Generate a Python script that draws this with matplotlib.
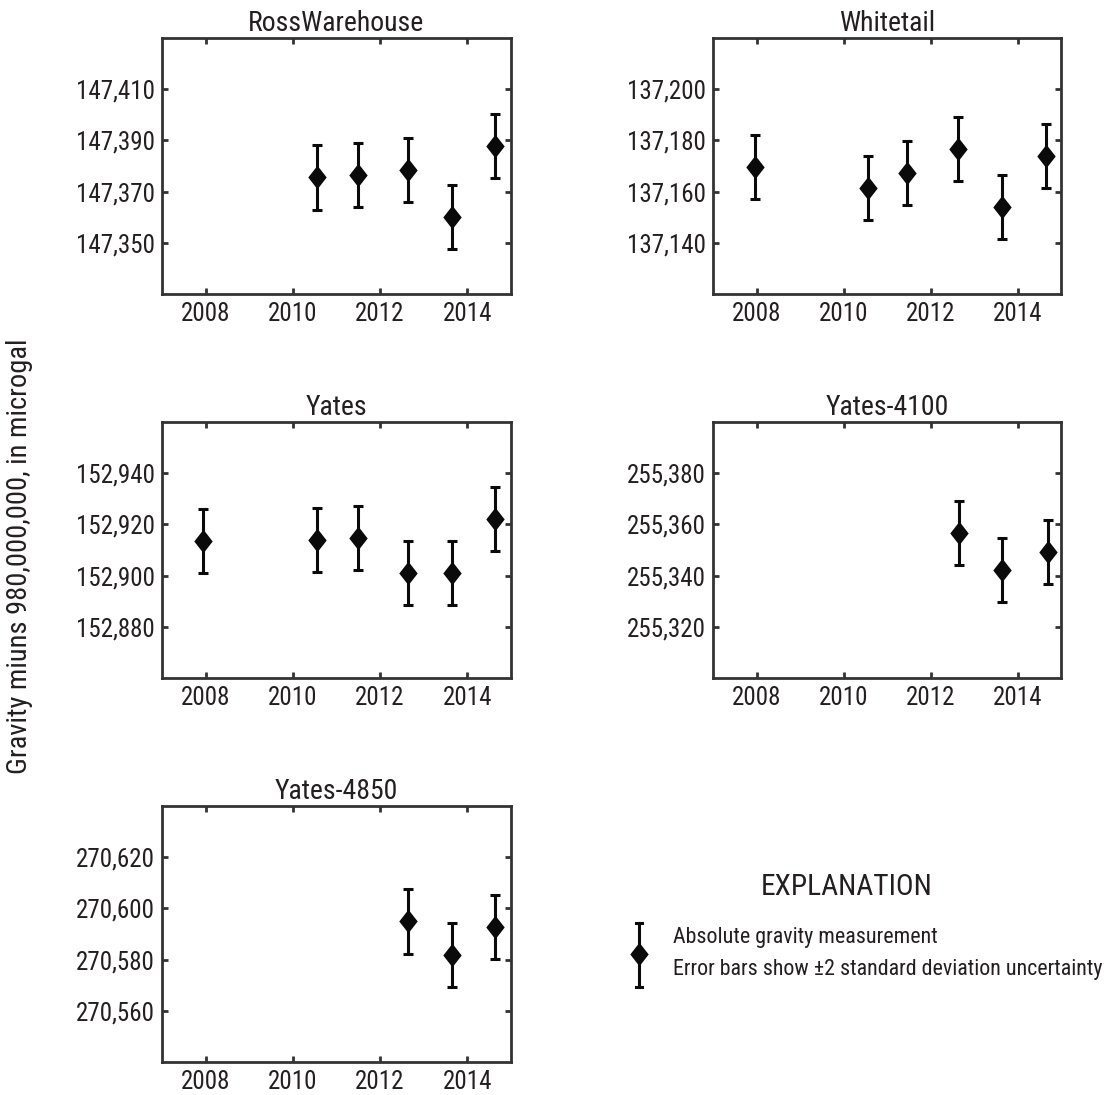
import matplotlib
matplotlib.use("Agg")
import matplotlib.pyplot as plt
from matplotlib.ticker import FuncFormatter, FixedLocator
from matplotlib import font_manager as fm

avail = set(f.name for f in fm.fontManager.ttflist)
cands = ['Roboto Condensed', 'Archivo Narrow', 'PT Sans Narrow', 'Liberation Sans Narrow', 'Roboto']
fams = [c for c in cands if c in avail] + ['DejaVu Sans']
plt.rcParams['font.family'] = [fams[0], 'DejaVu Sans']

TXT = '#231f20'

# ---- data ----
stations = ["RossWarehouse", "Whitetail", "Yates", "Yates-4100", "Yates-4850"]

ross_years = [2010.56, 2011.49, 2012.64, 2013.64, 2014.64]
ross_vals = [147375.6, 147376.3, 147378.6, 147360.0, 147387.9]
ross_err = [12.6, 12.5, 12.5, 12.5, 12.5]

white_years = [2007.96, 2010.57, 2011.47, 2012.63, 2013.64, 2014.65]
white_vals = [137169.5, 137161.3, 137167.4, 137176.8, 137153.9, 137173.8]
white_err = [12.5, 12.5, 12.5, 12.5, 12.5, 12.5]

yates_years = [2007.95, 2010.55, 2011.50, 2012.64, 2013.64, 2014.64]
yates_vals = [152913.5, 152913.8, 152914.6, 152901.0, 152901.0, 152922.0]
yates_err = [12.5, 12.5, 12.5, 12.5, 12.5, 12.5]

y4100_years = [2012.65, 2013.65, 2014.69]
y4100_vals = [255356.7, 255342.3, 255349.4]
y4100_err = [12.6, 12.5, 12.5]

y4850_years = [2012.64, 2013.64, 2014.64]
y4850_vals = [270594.9, 270581.9, 270592.6]
y4850_err = [12.6, 12.5, 12.5]

ylim_low = [147330, 137120, 152860, 255300, 270540]
ytick_start = [147350, 137140, 152880, 255320, 270560]
xticks = [2008, 2010, 2012, 2014]

series = [
    (ross_years, ross_vals, ross_err),
    (white_years, white_vals, white_err),
    (yates_years, yates_vals, yates_err),
    (y4100_years, y4100_vals, y4100_err),
    (y4850_years, y4850_vals, y4850_err),
]

W, H = 1113, 1095
fig = plt.figure(figsize=(W / 100, H / 100), dpi=100)

# axes rectangles in pixels: (left, top, right, bottom)
boxes = [
    (162, 38, 511, 294),
    (713, 38, 1061, 294),
    (162, 422, 511, 678),
    (713, 422, 1061, 678),
    (162, 806, 511, 1062),
]

diamond = [(-0.39, 0), (0, 0.5), (0.39, 0), (0, -0.5), (-0.39, 0)]

for i, (name, (xs, ys, es)) in enumerate(zip(stations, series)):
    l, t, r, b = boxes[i]
    ax = fig.add_axes([l / W, 1 - b / H, (r - l) / W, (b - t) / H])
    ax.errorbar(xs, ys, yerr=es, fmt='none', ecolor='#0a0a0a', elinewidth=2.2,
                capsize=3.5, capthick=2.2, zorder=2)
    ax.plot(xs, ys, linestyle='none', marker=diamond, markersize=17,
            color='#0a0a0a', markeredgewidth=0, zorder=3)
    ax.set_xlim(2007, 2015)
    ax.set_ylim(ylim_low[i], ylim_low[i] + 100)
    ax.xaxis.set_major_locator(FixedLocator(xticks))
    ax.yaxis.set_major_locator(FixedLocator([ytick_start[i] + 20 * k for k in range(4)]))
    ax.yaxis.set_major_formatter(FuncFormatter(lambda v, p: f"{v:,.0f}"))
    ax.tick_params(direction='in', length=4, width=2, color='#333333',
                   top=True, right=True, labelsize=18, labelcolor=TXT)
    ax.tick_params(axis='x', pad=6)
    ax.tick_params(axis='y', pad=5)
    for s in ax.spines.values():
        s.set_linewidth(2)
        s.set_color('#333333')
    ax.set_title(name, fontsize=20, color=TXT, pad=5)

fig.text(20 / W, 1 - 556 / H, "Gravity miuns 980,000,000, in microgal",
         rotation=90, ha='center', va='center', fontsize=20.5, color=TXT)

# explanation
fig.text(847 / W, 1 - 887 / H, "EXPLANATION", ha='center', va='center',
         fontsize=21.2, color=TXT)

lax = fig.add_axes([600 / W, 1 - 1000 / H, 80 / W, 100 / H])
lax.set_xlim(600, 680)
lax.set_ylim(1000, 900)
lax.axis('off')
lax.plot([639, 639], [923, 987], color='#0a0a0a', lw=2.2)
lax.plot([636, 642], [923, 923], color='#0a0a0a', lw=2.2)
lax.plot([636, 642], [987, 987], color='#0a0a0a', lw=2.2)
lax.plot([639], [954], linestyle='none', marker=diamond, markersize=17,
         color='#0a0a0a', markeredgewidth=0)

fig.text(673 / W, 1 - 937 / H, "Absolute gravity measurement", ha='left',
         va='center', fontsize=15.8, color=TXT)
fig.text(673 / W, 1 - 969 / H, "Error bars show \u00b12 standard deviation uncertainty",
         ha='left', va='center', fontsize=15.8, color=TXT)

fig.savefig("out.png", dpi=100)
